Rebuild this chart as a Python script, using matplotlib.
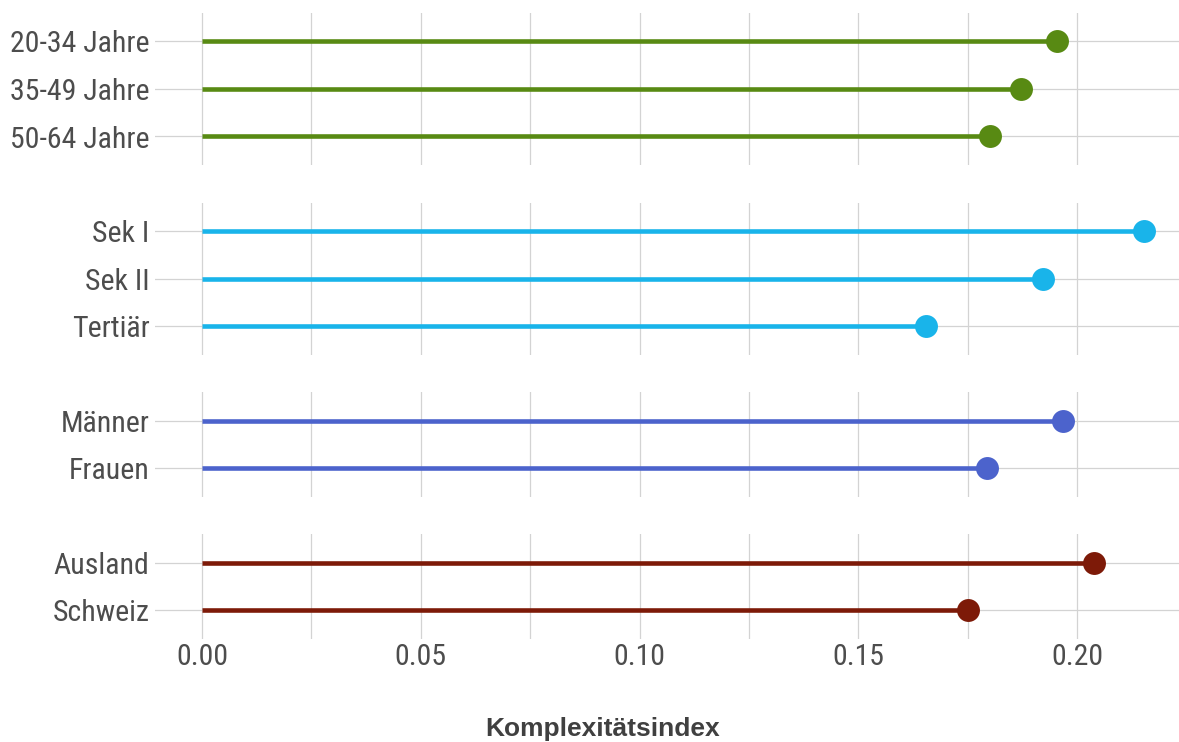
import matplotlib
matplotlib.use("Agg")
import matplotlib.pyplot as plt
from matplotlib import font_manager

W, H = 1179, 742
DPI = 100

# data
groups = ["Alter", "Bildung", "Geschlecht", "Herkunft"]
labels_alter = ["20-34 Jahre", "35-49 Jahre", "50-64 Jahre"]
values_alter = [0.1954, 0.1871, 0.1801]
labels_bildung = ["Sek I", "Sek II", "Tertiär"]
values_bildung = [0.2153, 0.1922, 0.1655]
labels_geschlecht = ["Männer", "Frauen"]
values_geschlecht = [0.1968, 0.1794]
labels_herkunft = ["Ausland", "Schweiz"]
values_herkunft = [0.2039, 0.1750]
colors = ["#588a13", "#19b4ea", "#4c63cc", "#7d1a08"]
x_ticks = [0.00, 0.05, 0.10, 0.15, 0.20]
x_label = "Komplexitätsindex"

panels = [
    (labels_alter, values_alter),
    (labels_bildung, values_bildung),
    (labels_geschlecht, values_geschlecht),
    (labels_herkunft, values_herkunft),
]

names = {f.name for f in font_manager.fontManager.ttflist}
narrow = [n for n in ["Liberation Sans Narrow", "Roboto Condensed", "Arial Narrow"] if n in names]
TICK_FONT = narrow + ["Liberation Sans", "DejaVu Sans"]
TEXT_COL = "#4d4d4d"
GRID_COL = "#d3d3d3"

fig = plt.figure(figsize=(W / DPI, H / DPI), dpi=DPI)

left_px, right_px = 155, 1179
top_px = 13
unit = 47.5
gap = 37.5
x0_px, x20_px = 202, 1077
px_per_val = (x20_px - x0_px) / 0.20
xlim = ((left_px - x0_px) / px_per_val, (right_px - x0_px) / px_per_val)

y = top_px
for i, (labs, vals) in enumerate(panels):
    # discrete scale: 0.6 units of padding on each side
    h = unit * (len(labs) - 1 + 1.2)
    ax = fig.add_axes([left_px / W, 1 - (y + h) / H, (right_px - left_px) / W, h / H])
    y += h + gap
    pos = list(range(len(labs)))
    ax.hlines(pos, 0, vals, color=colors[i], linewidth=3.3, zorder=3)
    ax.plot(vals, pos, "o", color=colors[i], markersize=16.5, markeredgewidth=0, zorder=4)
    ax.set_ylim(len(labs) - 1 + 0.6, -0.6)
    ax.set_xlim(*xlim)
    ax.set_yticks(pos)
    ax.set_yticklabels(labs)
    ax.set_xticks(x_ticks)
    ax.set_xticks([0.025, 0.075, 0.125, 0.175], minor=True)
    ax.grid(True, which="both", color=GRID_COL, linewidth=0.9)
    ax.set_axisbelow(True)
    for s in ax.spines.values():
        s.set_visible(False)
    ax.tick_params(axis="both", which="both", length=0, colors=TEXT_COL, labelsize=21.5, pad=4)
    for t in ax.get_yticklabels():
        t.set_family(TICK_FONT)
    if i < len(panels) - 1:
        ax.tick_params(axis="x", labelbottom=False)
    else:
        ax.tick_params(axis="x", pad=3)
        for t in ax.get_xticklabels():
            t.set_family(TICK_FONT)

fig.text(603 / W, 1 - 729 / H, x_label, ha="center", va="center",
         fontsize=19, fontweight="bold", color="#404040",
         family=["Liberation Sans", "DejaVu Sans"])

fig.savefig("out.png", dpi=DPI, facecolor="white")
